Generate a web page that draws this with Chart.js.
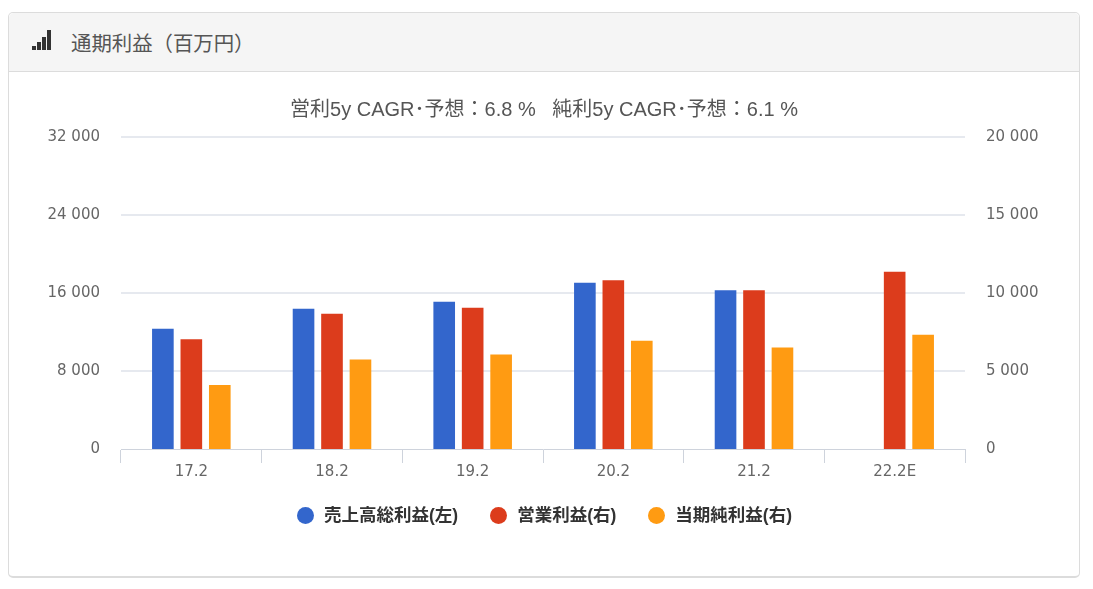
<!DOCTYPE html>
<html lang="ja">
<head>
<meta charset="utf-8">
<title>通期利益（百万円）</title>
<script src="https://cdn.jsdelivr.net/npm/chart.js@4"></script>
<style>
  html, body { margin: 0; padding: 0; background: #fff; }
  body { width: 1093px; height: 589px; position: relative; overflow: hidden; }
  .card { position: absolute; left: 8px; top: 12px; width: 1070px; height: 563px; border: 1px solid #dcdcdc; border-bottom-width: 2px; border-radius: 5px; box-sizing: content-box; }
  .card-head { position: absolute; left: 0; top: 0; right: 0; height: 58px; background: #f5f5f5; border-bottom: 1px solid #dcdcdc; border-radius: 5px 5px 0 0; }
  .card-title { position: absolute; left: 62px; top: 15px; font: 20.4px/28px "Noto Sans CJK JP", sans-serif; color: #555; }
  .icon { position: absolute; left: 23px; top: 17px; width: 20px; height: 20px; }
  .icon i { position: absolute; bottom: 0; background: #333; }
  canvas { position: absolute; left: 0; top: 59px; }
  #legend { position: absolute; left: 288px; top: 490px; display: flex; gap: 32px; font: bold 17.5px/24px "Liberation Sans", "Noto Sans CJK JP", sans-serif; color: #333; white-space: nowrap; }
  #legend span { display: flex; align-items: center; }
  #legend b { width: 17px; height: 17px; border-radius: 50%; margin-right: 10px; }
</style>
</head>
<body>
<div class="card">
  <div class="card-head">
    <div class="icon">
      <i style="left:0;width:4px;height:4px"></i>
      <i style="left:5px;width:4px;height:8px"></i>
      <i style="left:10px;width:4px;height:13px"></i>
      <i style="left:15px;width:4px;height:20px"></i>
    </div>
    <div class="card-title">通期利益（百万円）</div>
  </div>
  <canvas id="chart" width="1070" height="503"></canvas>
  <div id="legend"></div>
</div>
<script>
const categories = ["17.2", "18.2", "19.2", "20.2", "21.2", "22.2E"];
const grossProfit = [12340, 14390, 15100, 17050, 16280, null];
const operatingProfit = [7040, 8670, 9060, 10815, 10180, 11360];
const netProfit = [4100, 5730, 6050, 6945, 6500, 7330];
const subtitle = "営利5y CAGR･予想：6.8 %   純利5y CAGR･予想：6.1 %";

const LABEL_FONT = "'DejaVu Sans', 'Noto Sans CJK JP', sans-serif";

function spaced(value) {
  return String(value).replace(/\B(?=(\d{3})+$)/g, " ");
}

function barDataset(label, data, color, axis) {
  return {
    label,
    data,
    backgroundColor: color,
    borderWidth: 0,
    yAxisID: axis,
    categoryPercentage: 0.607,
    barPercentage: 0.76
  };
}

function yAxis(position, max, stepSize, drawGrid) {
  return {
    position,
    min: 0,
    max,
    border: { display: false },
    grid: {
      display: drawGrid,
      color: "#e6e9ef",
      lineWidth: ctx => (ctx.tick && ctx.tick.value === 0 ? 0 : 2),
      drawTicks: false
    },
    ticks: {
      stepSize,
      padding: 21,
      color: "#666",
      font: { family: LABEL_FONT, size: 15 },
      callback: value => spaced(value)
    },
    afterFit(scale) { scale.width = position === "left" ? 112 : 114; }
  };
}

const chart = new Chart(document.getElementById("chart"), {
  type: "bar",
  data: {
    labels: categories,
    datasets: [
      barDataset("売上高総利益(左)", grossProfit, "#3366cc", "yLeft"),
      barDataset("営業利益(右)", operatingProfit, "#dc3c1c", "yRight"),
      barDataset("当期純利益(右)", netProfit, "#ff9b12", "yRight")
    ]
  },
  options: {
    responsive: false,
    animation: false,
    layout: { padding: { top: 0, bottom: 90 } },
    plugins: {
      tooltip: { enabled: false },
      legend: { display: false },
      title: {
        display: true,
        text: subtitle,
        color: "#555",
        font: { family: "'Liberation Sans', 'Noto Sans CJK JP', sans-serif", size: 20, weight: "normal" },
        padding: { top: 26, bottom: 15 }
      }
    },
    scales: {
      x: {
        border: { color: "#ced3dc", width: 1 },
        grid: { color: "#ced3dc", drawOnChartArea: false, tickLength: 14 },
        ticks: {
          padding: 0,
          color: "#666",
          maxRotation: 0,
          font: { family: LABEL_FONT, size: 15 }
        },
        afterFit(scale) { scale.height = 36; }
      },
      yLeft: yAxis("left", 32000, 8000, true),
      yRight: yAxis("right", 20000, 5000, false)
    }
  }
});

// legend is plain html so it can sit closer to the axis than the built-in box allows
document.getElementById("legend").innerHTML = chart.data.datasets
  .map(ds => `<span><b style="background:${ds.backgroundColor}"></b>${ds.label}</span>`)
  .join("");
</script>
</body>
</html>
